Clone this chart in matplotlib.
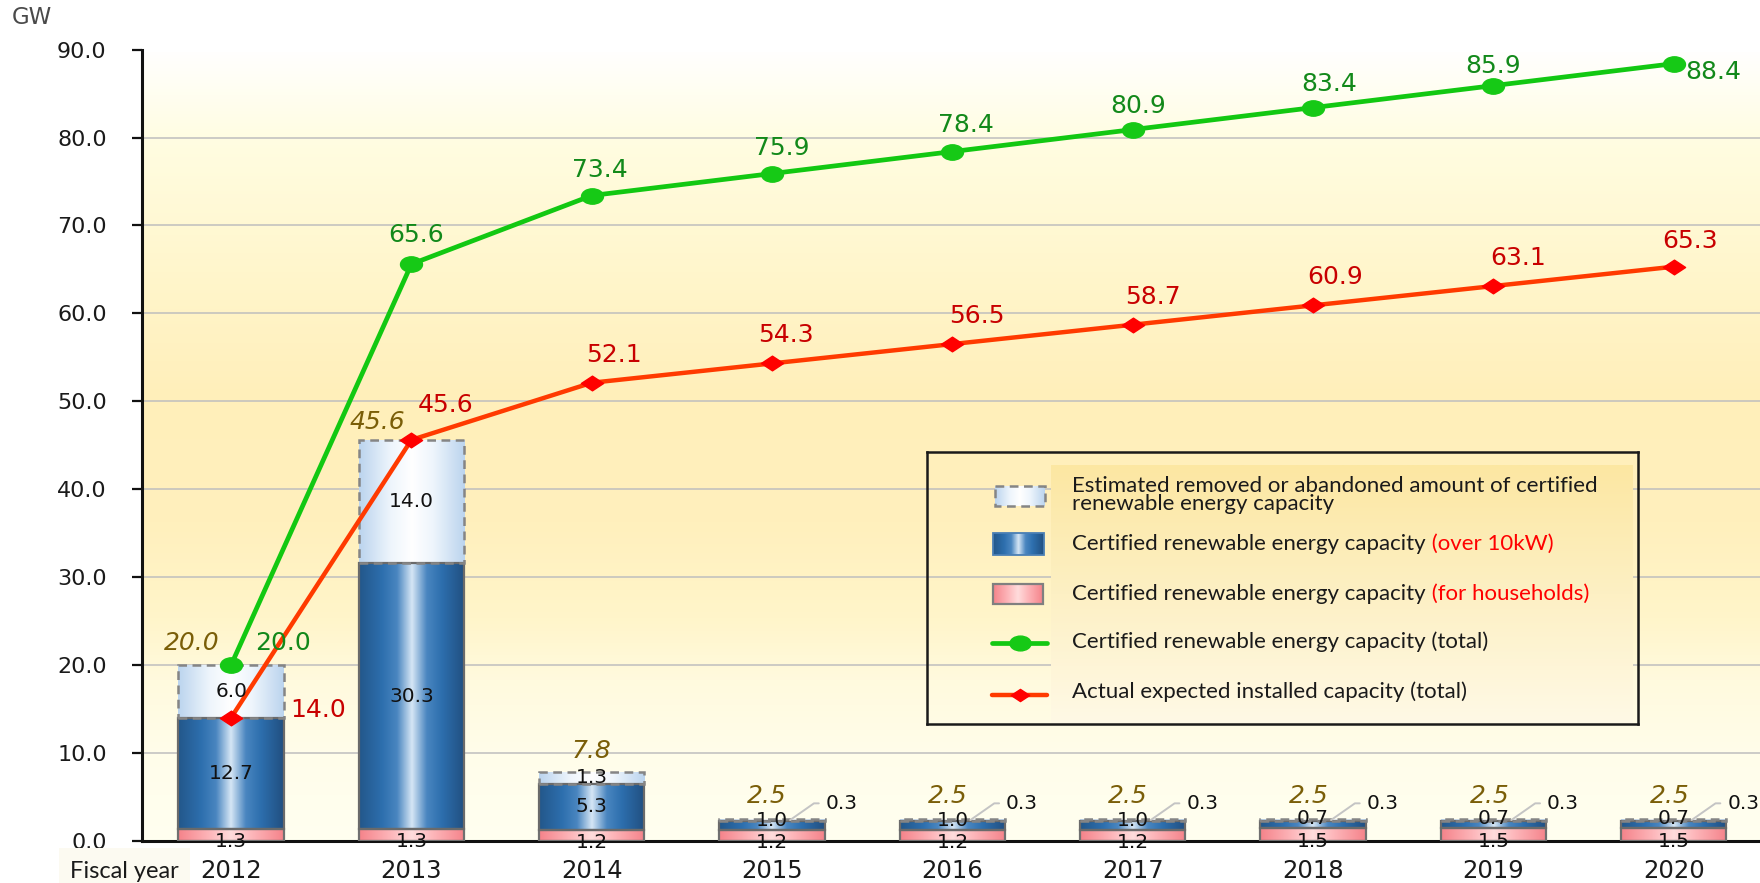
import numpy as np
import matplotlib
matplotlib.use("Agg")
import matplotlib.pyplot as plt
from matplotlib.colors import LinearSegmentedColormap
from matplotlib.patches import Rectangle
from matplotlib.path import Path

# ---------------- data (GW) ----------------
years = ["2012", "2013", "2014", "2015", "2016", "2017", "2018", "2019", "2020"]
households = [1.3, 1.3, 1.2, 1.2, 1.2, 1.2, 1.5, 1.5, 1.5]
over_10kw = [12.7, 30.3, 5.3, 1.0, 1.0, 1.0, 0.7, 0.7, 0.7]
removed = [6.0, 14.0, 1.3, 0.3, 0.3, 0.3, 0.3, 0.3, 0.3]
bar_totals = [20.0, 45.6, 7.8, 2.5, 2.5, 2.5, 2.5, 2.5, 2.5]
certified_total = [20.0, 65.6, 73.4, 75.9, 78.4, 80.9, 83.4, 85.9, 88.4]
actual_installed = [14.0, 45.6, 52.1, 54.3, 56.5, 58.7, 60.9, 63.1, 65.3]
y_ticks = [0, 10, 20, 30, 40, 50, 60, 70, 80, 90]

# label offsets in pixels (dx, dy up)
green_off = [(52, 22), (5, 29), (8, 26), (10, 26), (14, 27), (5, 24), (16, 24), (0, 20), (40, -8)]
red_off = [(87, 8), (34, 35), (22, 28), (14, 28), (24, 28), (20, 28), (22, 28), (25, 28), (16, 26)]
gold_off = [(-39, 22), (-34, 18), (0, 21), (-5, 23), (-5, 23), (-5, 23), (-4, 23), (-4, 23), (-4, 23)]

W, H, DPI = 1760, 883, 100
PX = 72.0 / DPI  # points per pixel

NUM_FONT = "DejaVu Sans"
TXT_FONT = ["Lato", "DejaVu Sans"]

fig = plt.figure(figsize=(W / DPI, H / DPI), dpi=DPI)
fig.patch.set_facecolor("white")

y0_px, y90_px, left_px = 840.7, 49.6, 141.7
ax = fig.add_axes([left_px / W, 1 - y0_px / H, 1 - left_px / W, (y0_px - y90_px) / H])

XLIM = (-0.496, 8.479)
YLIM = (0, 90)

# plot-area background: soft vertical cream/yellow gradient
bg_cmap = LinearSegmentedColormap.from_list("bg", [
    (0.00, "#FFFFF0"), (0.11, "#FFFDEA"), (0.20, "#FFFADE"), (0.28, "#FFF5CA"),
    (0.40, "#FFF0BD"), (0.56, "#FFEFBA"), (0.72, "#FFF6CC"), (0.89, "#FFFDE2"),
    (1.00, "#FFFFFF")])
ax.imshow(np.linspace(0, 1, 256)[:, None], cmap=bg_cmap, origin="lower",
          extent=(0, 1, 0, 1), transform=ax.transAxes, aspect="auto", zorder=0)

blue_cmap = LinearSegmentedColormap.from_list("blue", [
    (0.0, "#23578A"), (0.22, "#2D6FAE"), (0.36, "#4A86C0"), (0.5, "#D6E6F5"),
    (0.64, "#4A86C0"), (0.78, "#2D6FAE"), (1.0, "#214F80")])
pink_cmap = LinearSegmentedColormap.from_list("pink", [
    (0.0, "#F5838A"), (0.3, "#FDB6BA"), (0.5, "#FFDCDC"), (0.7, "#FDB6BA"), (1.0, "#F5838A")])
white_cmap = LinearSegmentedColormap.from_list("white", [
    (0.0, "#BBD4EE"), (0.3, "#EEF5FC"), (0.5, "#FFFFFF"), (0.7, "#EEF5FC"), (1.0, "#BBD4EE")])


def fill_gradient(axis, patch, cmap, z=2):
    x0, yb = patch.get_x(), patch.get_y()
    w, h = patch.get_width(), patch.get_height()
    im = axis.imshow(np.linspace(0, 1, 256)[None, :], cmap=cmap,
                     extent=(x0, x0 + w, yb, yb + h), aspect="auto",
                     interpolation="bilinear", zorder=z)
    im.set_clip_path(patch)


x = np.arange(len(years))
bw = 0.585
o10_bottom = np.array(households)
rem_bottom = np.add(households, over_10kw)

hh_bars = ax.bar(x, households, bw, facecolor="none", edgecolor="#707070", lw=1.6, zorder=3)
o10_bars = ax.bar(x, over_10kw, bw, bottom=o10_bottom, facecolor="none",
                  edgecolor="#6A6A6A", lw=1.6, zorder=3)
rem_bars = ax.bar(x, removed, bw, bottom=rem_bottom, facecolor="none",
                  edgecolor="#858585", lw=1.8, ls=(0, (3.5, 2.2)), zorder=3)
for p in hh_bars:
    fill_gradient(ax, p, pink_cmap)
for p in o10_bars:
    fill_gradient(ax, p, blue_cmap)
for p in rem_bars:
    fill_gradient(ax, p, white_cmap)

# segment value labels
SEG_FS = 14.5
seg_kw = dict(fontsize=SEG_FS, family=NUM_FONT, color="#111111", ha="center", va="center",
              textcoords="offset points", zorder=7)
for i in range(len(years)):
    ax.annotate(f"{households[i]:.1f}", (x[i], households[i] / 2), xytext=(0, -7 * PX), **seg_kw)
    dy = 5.6 if over_10kw[i] < 1.5 else 0
    ax.annotate(f"{over_10kw[i]:.1f}", (x[i], o10_bottom[i] + over_10kw[i] / 2),
                xytext=(0, dy * PX), **seg_kw)
    rc = rem_bottom[i] + removed[i] / 2
    if removed[i] >= 1.0:
        ax.annotate(f"{removed[i]:.1f}", (x[i], rc), xytext=(0, 0), **seg_kw)
    else:
        ax.annotate(f"{removed[i]:.1f}", xy=(x[i] + 0.1, rc),
                    xytext=(x[i] + bw / 2 + 0.005, bar_totals[i] + 1.75),
                    fontsize=SEG_FS, family=NUM_FONT, color="#111111", ha="left", va="center",
                    zorder=7,
                    arrowprops=dict(arrowstyle="-", color="#C4C4C4", lw=1.4,
                                    relpos=(0, 0.5), shrinkA=3, shrinkB=0,
                                    connectionstyle="angle,angleA=180,angleB=35,rad=0"))

# bar totals (italic gold)
for i, t in enumerate(bar_totals):
    ax.annotate(f"{t:.1f}", (x[i], t), xytext=(gold_off[i][0] * PX, gold_off[i][1] * PX),
                textcoords="offset points", ha="center", va="center", fontsize=18,
                family=NUM_FONT, style="italic", color="#7A5E08", zorder=7)

# line markers: slightly wide ellipse / diamond
circ = Path.unit_circle()
ellipse = Path(circ.vertices * np.array([1.0, 0.7]), circ.codes)
diamond = Path([(-1, 0), (0, 0.66), (1, 0), (0, -0.66), (-1, 0)],
               [Path.MOVETO, Path.LINETO, Path.LINETO, Path.LINETO, Path.CLOSEPOLY])

ax.plot(x, certified_total, color="#12C812", lw=3.4, marker=ellipse, ms=15.8,
        mfc="#16C916", mec="#16C916", zorder=5, solid_capstyle="round")
ax.plot(x, actual_installed, color="#FF3A00", lw=3.2, marker=diamond, ms=16,
        mfc="#FF0000", mec="#FF0000", zorder=6, solid_capstyle="round")

for i, v in enumerate(certified_total):
    ax.annotate(f"{v:.1f}", (x[i], v), xytext=(green_off[i][0] * PX, green_off[i][1] * PX),
                textcoords="offset points", ha="center", va="center", fontsize=18,
                family=NUM_FONT, color="#12891A", zorder=8)
for i, v in enumerate(actual_installed):
    ax.annotate(f"{v:.1f}", (x[i], v), xytext=(red_off[i][0] * PX, red_off[i][1] * PX),
                textcoords="offset points", ha="center", va="center", fontsize=18,
                family=NUM_FONT, color="#C80000", zorder=8)

# axes styling
ax.set_xlim(*XLIM)
ax.set_ylim(*YLIM)
ax.set_yticks(y_ticks)
ax.set_yticklabels([f"{v:.1f}" for v in y_ticks], fontsize=16, family=NUM_FONT, color="#1A1A1A")
ax.set_xticks(x)
ax.set_xticklabels(years, fontsize=17.5, family=NUM_FONT, color="#1A1A1A")
ax.tick_params(axis="y", length=10 * PX, width=1.6, pad=25 * PX, color="#111111")
ax.tick_params(axis="x", length=0, pad=13.5)
ax.set_axisbelow(True)
ax.yaxis.grid(True, color="#BEBEBE", lw=1.1, zorder=1)
ax.get_ygridlines()[-1].set_visible(False)
ax.get_ygridlines()[0].set_visible(False)
for s in ("top", "right"):
    ax.spines[s].set_visible(False)
ax.spines["left"].set_linewidth(2.2)
ax.spines["bottom"].set_linewidth(2.2)
ax.spines["left"].set_color("#111111")
ax.spines["bottom"].set_color("#111111")

# unit and axis caption
fig.text(12 / W, 1 - 17.5 / H, "GW", ha="left", va="center", fontsize=16.5,
         family=NUM_FONT, color="#4A4A4A")
fig.patches.append(Rectangle((59 / W, 0), (190 - 59) / W, (883 - 848) / H,
                             transform=fig.transFigure, facecolor="#FCFAF1",
                             edgecolor="none", zorder=0))
fig.text(124 / W, 1 - 872 / H, "Fiscal year", ha="center", va="center", fontsize=17,
         family=TXT_FONT, color="#1A1A1A")

# ---------------- legend ----------------
L, R, T, B = 927, 1638, 452, 724
lg = fig.add_axes([L / W, 1 - B / H, (R - L) / W, (B - T) / H])
lg.set_xlim(L, R)
lg.set_ylim(B, T)
lg.patch.set_alpha(0)
lg.set_xticks([])
lg.set_yticks([])
for s in lg.spines.values():
    s.set_linewidth(1.8)
    s.set_color("#1A1A1A")

panel_cmap = LinearSegmentedColormap.from_list("panel", ["#FCE7A2", "#FDF0C4", "#FFF9E6"])
lg.imshow(np.linspace(0, 1, 256)[:, None], cmap=panel_cmap, origin="upper",
          extent=(1051, 1632, B, 465), aspect="auto", zorder=0)

h_rem = Rectangle((995, 486), 50, 20, facecolor="none", edgecolor="#858585", lw=1.8,
                  ls=(0, (3.5, 2.2)), zorder=3)
h_blue = Rectangle((993, 533), 51, 22, facecolor="none", edgecolor="#4A7FB5", lw=1.3, zorder=3)
h_pink = Rectangle((993, 584), 50, 20, facecolor="none", edgecolor="#808080", lw=1.6, zorder=3)
for patch, cm in ((h_rem, white_cmap), (h_blue, blue_cmap), (h_pink, pink_cmap)):
    lg.add_patch(patch)
    fill_gradient(lg, patch, cm)

lg.plot([992, 1047], [643, 643], color="#12C812", lw=3.4, solid_capstyle="round", zorder=3)
lg.plot([1019.5], [643], marker=ellipse, ms=15.2, color="#16C916", zorder=4)
lg.plot([992, 1047], [695, 695], color="#FF3A00", lw=3.2, solid_capstyle="round", zorder=3)
lg.plot([1019.5], [695], marker=diamond, ms=13.3, color="#FF0000", zorder=4)

LEG_FS = 16
leg_kw = dict(fontsize=LEG_FS, family=TXT_FONT, color="#1A1A1A", va="center", ha="left", zorder=5)
lg.text(1072, 495, "Estimated removed or abandoned amount of certified\nrenewable energy capacity",
        linespacing=0.88, **leg_kw)
t2 = lg.text(1072, 543.5, "Certified renewable energy capacity", **leg_kw)
lg.annotate(" (over 10kW)", xy=(1, 0), xycoords=t2, va="bottom", ha="left",
            fontsize=LEG_FS, family=TXT_FONT, color="#FF0000", zorder=5)
t3 = lg.text(1072, 593.5, "Certified renewable energy capacity", **leg_kw)
lg.annotate(" (for households)", xy=(1, 0), xycoords=t3, va="bottom", ha="left",
            fontsize=LEG_FS, family=TXT_FONT, color="#FF0000", zorder=5)
lg.text(1072, 642, "Certified renewable energy capacity (total)", **leg_kw)
lg.text(1072, 692, "Actual expected installed capacity (total)", **leg_kw)

fig.savefig("out.png", dpi=DPI)
